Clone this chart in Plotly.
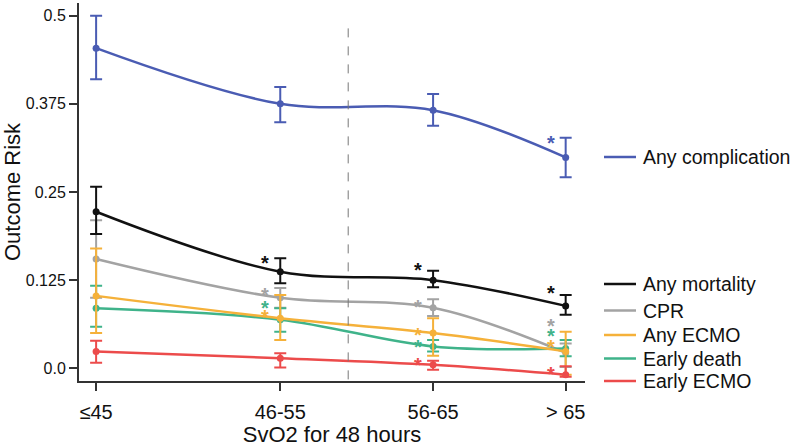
import plotly.graph_objects as go

# ---------------- data ----------------
categories = ["≤45", "46-55", "56-65", "> 65"]
x_positions = [0.0, 1.0, 1.83, 2.55]

series_names = ["Any complication", "Any mortality", "CPR", "Any ECMO", "Early death", "Early ECMO"]

any_complication_mean = [0.454, 0.375, 0.366, 0.299]
any_complication_hi = [0.500, 0.399, 0.389, 0.327]
any_complication_lo = [0.410, 0.349, 0.344, 0.271]

any_mortality_mean = [0.222, 0.137, 0.125, 0.0885]
any_mortality_hi = [0.2575, 0.156, 0.1385, 0.104]
any_mortality_lo = [0.1905, 0.1207, 0.115, 0.0758]

cpr_mean = [0.155, 0.100, 0.086, 0.022]
cpr_hi = [0.210, 0.114, 0.098, 0.035]
cpr_lo = [0.100, 0.086, 0.074, 0.002]

any_ecmo_mean = [0.1027, 0.071, 0.050, 0.024]
any_ecmo_hi = [0.170, 0.104, 0.071, 0.052]
any_ecmo_lo = [0.050, 0.040, 0.0177, -0.009]

early_death_mean = [0.085, 0.069, 0.031, 0.028]
early_death_hi = [0.117, 0.085, 0.040, 0.040]
early_death_lo = [0.059, 0.052, 0.024, 0.017]

early_ecmo_mean = [0.024, 0.0144, 0.005, -0.009]
early_ecmo_hi = [0.039, 0.0215, 0.0106, 0.003]
early_ecmo_lo = [0.008, 0.001, -0.002, -0.012]

# significance asterisks: (category index, y value)
asterisks = {
    "Any complication": [(3, 0.326)],
    "Any mortality": [(1, 0.156), (2, 0.1466), (3, 0.1136)],
    "CPR": [(1, 0.111), (2, 0.0946), (3, 0.0677)],
    "Any ECMO": [(1, 0.0805), (2, 0.0545), (3, 0.038)],
    "Early death": [(1, 0.092), (2, 0.038), (3, 0.0535)],
    "Early ECMO": [(2, 0.012), (3, -0.001)],
}

y_tickvals = [0.0, 0.125, 0.25, 0.375, 0.5]
y_ticktext = ["0.0", "0.125", "0.25", "0.375", "0.5"]
divider_x = 1.369

colors = {
    "Any complication": "#4a5cb3",
    "Any mortality": "#111111",
    "CPR": "#a3a3a3",
    "Any ECMO": "#f5b13a",
    "Early death": "#3fb38a",
    "Early ECMO": "#ec4b4b",
}

data = {
    "Any complication": (any_complication_mean, any_complication_hi, any_complication_lo),
    "Any mortality": (any_mortality_mean, any_mortality_hi, any_mortality_lo),
    "CPR": (cpr_mean, cpr_hi, cpr_lo),
    "Any ECMO": (any_ecmo_mean, any_ecmo_hi, any_ecmo_lo),
    "Early death": (early_death_mean, early_death_hi, early_death_lo),
    "Early ECMO": (early_ecmo_mean, early_ecmo_hi, early_ecmo_lo),
}

FONT = "Arial, Liberation Sans, Helvetica, sans-serif"

fig = go.Figure()

draw_order = ["Any complication", "CPR", "Early death", "Any ECMO", "Early ECMO", "Any mortality"]
for name in draw_order:
    mean, hi, lo = data[name]
    c = colors[name]
    fig.add_trace(go.Scatter(
        x=x_positions, y=mean, name=name, mode="lines+markers",
        line=dict(color=c, width=2.5, shape="spline", smoothing=1.0),
        marker=dict(color=c, size=7),
        error_y=dict(type="data", symmetric=False,
                     array=[h - m for h, m in zip(hi, mean)],
                     arrayminus=[m - l for m, l in zip(mean, lo)],
                     color=c, thickness=2, width=6),
        showlegend=False,
    ))

# asterisks
for name, marks in asterisks.items():
    for idx, yv in marks:
        fig.add_annotation(x=x_positions[idx], y=yv, text="<b>*</b>", showarrow=False,
                           xshift=-15, yshift=-5, xanchor="center", yanchor="middle",
                           font=dict(family=FONT, size=20, color=colors[name]))

# dashed divider
fig.add_shape(type="line", x0=divider_x, x1=divider_x, y0=0.482, y1=-0.018,
              xref="x", yref="y", line=dict(color="#777777", width=1, dash="dash"))

# manual legend (paper coords)
plot_left, plot_right, plot_top, plot_bottom = 79, 585, 3, 381
def px_to_paper_x(px):
    return (px - plot_left) / (plot_right - plot_left)
def px_to_paper_y(py):
    return (plot_bottom - py) / (plot_bottom - plot_top)

legend_rows = [("Any complication", 157), ("Any mortality", 284), ("CPR", 310.5),
               ("Any ECMO", 335), ("Early death", 358.5), ("Early ECMO", 381)]
for name, py in legend_rows:
    yp = px_to_paper_y(py)
    fig.add_shape(type="line", xref="paper", yref="paper",
                  x0=px_to_paper_x(604), x1=px_to_paper_x(636), y0=yp, y1=yp,
                  line=dict(color=colors[name], width=2.5))
    fig.add_annotation(xref="paper", yref="paper", x=px_to_paper_x(641), y=yp,
                       text=name, showarrow=False, xanchor="left", yanchor="middle",
                       font=dict(family=FONT, size=19.5, color="#111111"))

fig.update_layout(
    width=800, height=447,
    margin=dict(l=plot_left, r=800 - plot_right, t=plot_top, b=447 - plot_bottom),
    paper_bgcolor="white", plot_bgcolor="white",
    font=dict(family=FONT, color="#111111"),
    xaxis=dict(range=[-0.093, 2.655], tickvals=x_positions, ticktext=categories,
               showgrid=False, zeroline=False, showline=True, linecolor="#333333", linewidth=2,
               ticks="outside", ticklen=8, tickwidth=1.5, tickcolor="#333333", automargin=False,
               tickfont=dict(size=20, family=FONT, color="#111111"), ticklabelstandoff=4,
               title=dict(text="SvO2 for 48 hours", font=dict(size=22, family=FONT, color="#111111"),
                          standoff=9)),
    yaxis=dict(range=[-0.018, 0.518], tickvals=y_tickvals, ticktext=y_ticktext,
               showgrid=False, zeroline=False, showline=True, linecolor="#333333", linewidth=2,
               ticks="outside", ticklen=8, tickwidth=1.5, tickcolor="#333333", automargin=False,
               tickfont=dict(size=16, family=FONT, color="#111111"),
               title=dict(text="Outcome Risk", font=dict(size=22, family=FONT, color="#111111"),
                          standoff=1)),
)

fig.write_html("out.html", config={"displayModeBar": False},
               post_script="document.body.style.margin='0';")
